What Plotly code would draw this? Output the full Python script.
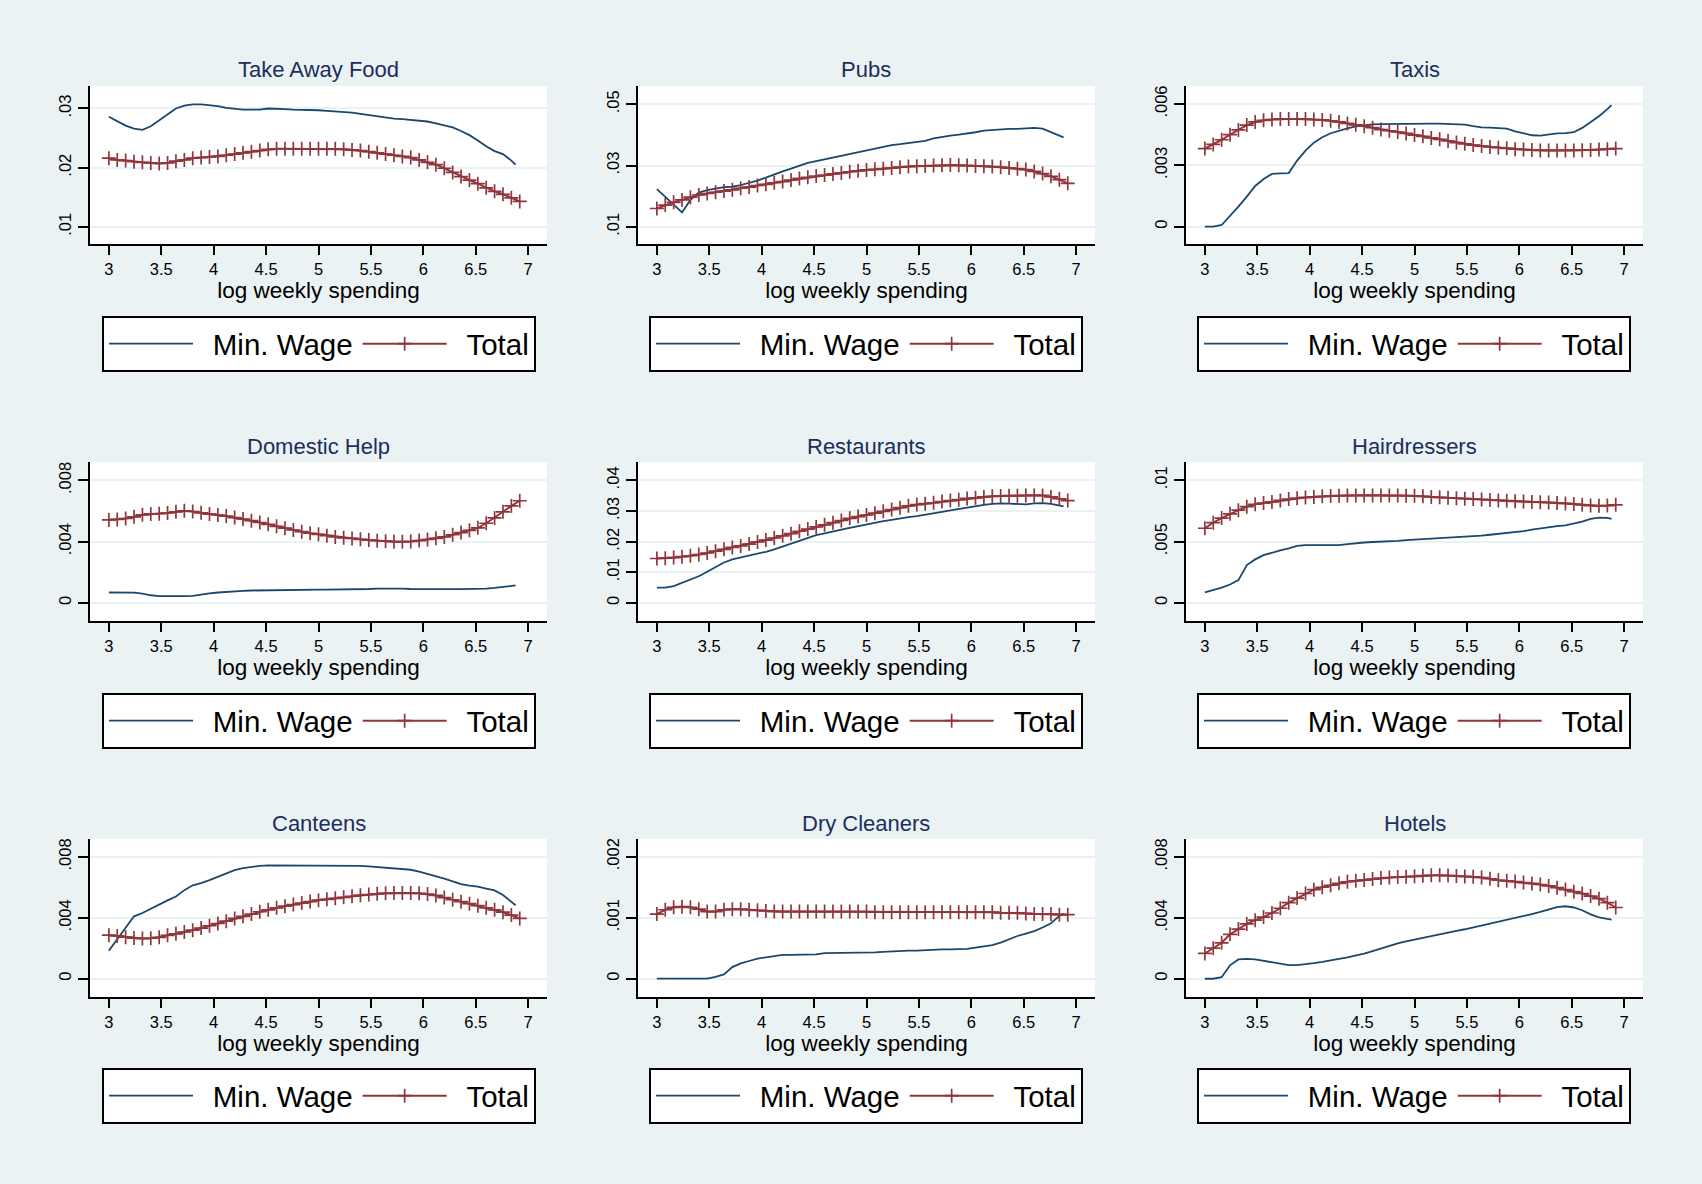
import plotly.graph_objects as go

# ---------------- data ----------------
X_TOTAL = [3.00, 3.08, 3.16, 3.24, 3.32, 3.40, 3.48, 3.56, 3.64, 3.72,
           3.80, 3.88, 3.96, 4.04, 4.12, 4.20, 4.28, 4.36, 4.44, 4.52,
           4.60, 4.68, 4.76, 4.84, 4.92, 5.00, 5.08, 5.16, 5.24, 5.32,
           5.40, 5.48, 5.56, 5.64, 5.72, 5.80, 5.88, 5.96, 6.04, 6.12,
           6.20, 6.28, 6.36, 6.44, 6.52, 6.60, 6.68, 6.76, 6.84, 6.92]
X_MINWAGE = [3.00, 3.08, 3.16, 3.24, 3.32, 3.40, 3.48, 3.56, 3.64, 3.72,
             3.80, 3.88, 3.96, 4.04, 4.12, 4.20, 4.28, 4.36, 4.44, 4.52,
             4.60, 4.68, 4.76, 4.84, 4.92, 5.00, 5.08, 5.16, 5.24, 5.32,
             5.40, 5.48, 5.56, 5.64, 5.72, 5.80, 5.88, 5.96, 6.04, 6.12,
             6.20, 6.28, 6.36, 6.44, 6.52, 6.60, 6.68, 6.76, 6.84, 6.88]

CATEGORIES = ["Take Away Food", "Pubs", "Taxis",
              "Domestic Help", "Restaurants", "Hairdressers",
              "Canteens", "Dry Cleaners", "Hotels"]
SERIES_NAMES = ["Min. Wage", "Total"]
X_TICKS = [3, 3.5, 4, 4.5, 5, 5.5, 6, 6.5, 7]
X_TICK_LABELS = ["3", "3.5", "4", "4.5", "5", "5.5", "6", "6.5", "7"]
X_TITLE = "log weekly spending"

MW_TAKE_AWAY = [.0286, .0279, .0271, .0266, .0264, .0270, .0280, .0291, .0300, .0305,
                .0307, .0307, .0306, .0304, .0301, .0299, .0298, .0298, .0298, .0300,
                .0300, .0299, .0298, .0298, .0297, .0297, .0296, .0295, .0295, .0293,
                .0291, .0289, .0287, .0284, .0283, .0282, .0281, .0279, .0278, .0275,
                .0272, .0268, .0262, .0255, .0246, .0236, .0228, .0223, .0212, .0205]
TOT_TAKE_AWAY = [.0216, .0213, .0212, .0210, .0209, .0208, .0207, .0208, .0211, .0213,
                 .0216, .0217, .0218, .0219, .0221, .0223, .0225, .0227, .0229, .0231,
                 .0232, .0232, .0232, .0232, .0232, .0232, .0232, .0232, .0231, .0230,
                 .0229, .0227, .0225, .0223, .0221, .0219, .0217, .0213, .0209, .0205,
                 .0199, .0192, .0185, .0179, .0173, .0166, .0160, .0155, .0149, .0143]

MW_PUBS = [.0223, .0198, .0172, .0147, .0188, .0212, .0220, .0226, .0230, .0231,
           .0236, .0244, .0251, .0261, .0272, .0281, .0290, .0299, .0309, .0315,
           .0321, .0327, .0333, .0339, .0345, .0351, .0356, .0362, .0367, .0370,
           .0373, .0377, .0381, .0389, .0394, .0398, .0401, .0404, .0409, .0414,
           .0416, .0419, .0420, .0420, .0421, .0423, .0421, .0410, .0397, .0392]
TOT_PUBS = [.0160, .0171, .0180, .0188, .0197, .0204, .0209, .0213, .0217, .0221,
            .0226, .0230, .0235, .0239, .0244, .0248, .0253, .0258, .0262, .0266,
            .0269, .0273, .0276, .0280, .0283, .0286, .0288, .0290, .0292, .0295,
            .0297, .0298, .0299, .0300, .0301, .0302, .0301, .0300, .0299, .0298,
            .0297, .0295, .0292, .0290, .0287, .0281, .0274, .0265, .0254, .0242]

MW_TAXIS = [0, 0, .00008, .00052, .00098, .00147, .00199, .00233, .00258, .00261,
            .00262, .00323, .00372, .00411, .00437, .00457, .00470, .00481, .00490, .00496,
            .00500, .00501, .00502, .00503, .00504, .00504, .00504, .00504, .00504, .00503,
            .00502, .00499, .00492, .00486, .00484, .00483, .00479, .00466, .00456, .00447,
            .00445, .00451, .00456, .00457, .00462, .00483, .00513, .00540, .00575, .00594]
TOT_TAXIS = [.00382, .00402, .00425, .00450, .00473, .00497, .00512, .00520, .00524, .00527,
             .00527, .00527, .00526, .00524, .00522, .00518, .00512, .00505, .00498, .00491,
             .00484, .00475, .00469, .00463, .00456, .00448, .00442, .00434, .00427, .00419,
             .00411, .00405, .00399, .00394, .00390, .00386, .00383, .00379, .00377, .00375,
             .00373, .00373, .00373, .00373, .00373, .00374, .00375, .00377, .00379, .00382]

MW_DOMESTIC = [.00068, .00068, .00068, .00067, .00060, .00050, .00045, .00044, .00044, .00044,
               .00046, .00055, .00062, .00068, .00073, .00077, .00079, .00081, .00082, .00084,
               .00086, .00087, .00087, .00087, .00087, .00087, .00087, .00087, .00087, .00087,
               .00088, .00091, .00093, .00094, .00094, .00093, .00091, .00090, .00090, .00090,
               .00090, .00090, .00090, .00090, .00091, .00094, .00098, .00105, .00111, .00114]
TOT_DOMESTIC = [.00542, .00545, .00551, .00562, .00575, .00581, .00582, .00587, .00595, .00601,
                .00597, .00588, .00580, .00574, .00567, .00557, .00548, .00537, .00525, .00513,
                .00500, .00488, .00476, .00465, .00455, .00448, .00439, .00431, .00425, .00421,
                .00415, .00410, .00406, .00403, .00400, .00400, .00401, .00407, .00414, .00422,
                .00431, .00445, .00459, .00474, .00490, .00520, .00555, .00595, .00633, .00667]

MW_RESTAURANTS = [.0050, .0050, .0055, .0065, .0076, .0087, .0102, .0118, .0132, .0142,
                  .0148, .0155, .0161, .0167, .0175, .0184, .0193, .0201, .0211, .0221,
                  .0227, .0234, .0239, .0245, .0251, .0256, .0261, .0267, .0271, .0276,
                  .0280, .0283, .0287, .0292, .0297, .0302, .0307, .0312, .0317, .0320,
                  .0323, .0325, .0324, .0322, .0322, .0325, .0326, .0323, .0318, .0315]
TOT_RESTAURANTS = [.0145, .0146, .0148, .0151, .0154, .0158, .0163, .0169, .0175, .0181,
                   .0186, .0192, .0199, .0205, .0212, .0219, .0226, .0234, .0241, .0248,
                   .0255, .0262, .0269, .0276, .0282, .0287, .0293, .0299, .0305, .0311,
                   .0317, .0321, .0324, .0327, .0331, .0334, .0337, .0341, .0343, .0346,
                   .0348, .0349, .0350, .0350, .0351, .0351, .0351, .0346, .0340, .0334]

MW_HAIRDRESSERS = [.00085, .00104, .00125, .00150, .00186, .00309, .00355, .00390, .00412, .00428,
                   .00445, .00465, .00472, .00472, .00467, .00469, .00472, .00480, .00488, .00493,
                   .00497, .00499, .00502, .00506, .00512, .00518, .00522, .00525, .00528, .00532,
                   .00534, .00535, .00541, .00549, .00556, .00562, .00568, .00574, .00585, .00598,
                   .00608, .00620, .00626, .00633, .00648, .00663, .00685, .00696, .00694, .00686]
TOT_HAIRDRESSERS = [.00609, .00655, .00692, .00727, .00757, .00785, .00805, .00815, .00824, .00836,
                    .00847, .00855, .00861, .00865, .00870, .00873, .00875, .00876, .00877, .00877,
                    .00877, .00877, .00876, .00876, .00875, .00874, .00870, .00865, .00862, .00858,
                    .00854, .00851, .00848, .00844, .00840, .00836, .00833, .00829, .00827, .00824,
                    .00822, .00820, .00816, .00812, .00807, .00800, .00794, .00792, .00794, .00800]

MW_CANTEENS = [.00184, .00258, .00330, .00410, .00432, .00461, .00491, .00515, .00540, .00582,
               .00614, .00628, .00648, .00668, .00691, .00713, .00726, .00736, .00742, .00745,
               .00745, .00745, .00745, .00745, .00745, .00745, .00745, .00745, .00745, .00745,
               .00741, .00738, .00734, .00730, .00727, .00724, .00716, .00704, .00690, .00676,
               .00658, .00640, .00622, .00611, .00605, .00592, .00580, .00550, .00505, .00483]
TOT_CANTEENS = [.00286, .00281, .00273, .00267, .00264, .00266, .00272, .00285, .00295, .00307,
                .00319, .00333, .00348, .00363, .00378, .00396, .00410, .00425, .00440, .00453,
                .00466, .00477, .00487, .00497, .00507, .00516, .00522, .00528, .00535, .00542,
                .00549, .00553, .00558, .00561, .00563, .00564, .00563, .00561, .00556, .00547,
                .00533, .00519, .00506, .00493, .00480, .00466, .00453, .00437, .00418, .00396]

MW_DRY_CLEANERS = [0, 0, 0, 0, 0, 0, 0, .00003, .00007, .00019,
                   .00025, .00029, .00033, .00035, .00037, .00039, .00039, .00039, .00039, .00040,
                   .00042, .00042, .00043, .00043, .00043, .00043, .00043, .00044, .00045, .00045,
                   .00046, .00046, .00047, .00048, .00048, .00048, .00048, .00049, .00051, .00053,
                   .00055, .00059, .00065, .00070, .00074, .00078, .00084, .00091, .00103, .00107]
TOT_DRY_CLEANERS = [.00106, .00113, .00117, .00118, .00117, .00114, .00110, .00110, .00113, .00114,
                    .00114, .00113, .00112, .00111, .00110, .00110, .00110, .00110, .00110, .00110,
                    .00110, .00110, .00110, .00110, .00110, .00110, .00109, .00109, .00109, .00109,
                    .00109, .00109, .00109, .00109, .00109, .00109, .00109, .00109, .00109, .00109,
                    .00109, .00108, .00108, .00108, .00107, .00106, .00106, .00106, .00105, .00105]

MW_HOTELS = [0, 0, .00010, .00088, .00127, .00131, .00127, .00117, .00106, .00096,
             .00090, .00090, .00095, .00103, .00111, .00118, .00130, .00140, .00151, .00165,
             .00181, .00199, .00216, .00233, .00246, .00258, .00269, .00280, .00292, .00305,
             .00315, .00325, .00337, .00349, .00361, .00374, .00386, .00400, .00413, .00425,
             .00439, .00457, .00471, .00476, .00468, .00450, .00423, .00403, .00393, .00389]
TOT_HOTELS = [.00166, .00201, .00236, .00292, .00326, .00360, .00385, .00405, .00432, .00463,
              .00500, .00530, .00560, .00585, .00601, .00614, .00627, .00637, .00643, .00648,
              .00655, .00661, .00665, .00668, .00670, .00673, .00677, .00680, .00680, .00678,
              .00675, .00672, .00670, .00665, .00657, .00647, .00643, .00638, .00632, .00626,
              .00619, .00610, .00598, .00586, .00572, .00560, .00543, .00526, .00500, .00468]

MIN_WAGE = [MW_TAKE_AWAY, MW_PUBS, MW_TAXIS, MW_DOMESTIC, MW_RESTAURANTS,
            MW_HAIRDRESSERS, MW_CANTEENS, MW_DRY_CLEANERS, MW_HOTELS]
TOTAL = [TOT_TAKE_AWAY, TOT_PUBS, TOT_TAXIS, TOT_DOMESTIC, TOT_RESTAURANTS,
         TOT_HAIRDRESSERS, TOT_CANTEENS, TOT_DRY_CLEANERS, TOT_HOTELS]

Y_TICKS = [[0.01, 0.02, 0.03], [0.01, 0.03, 0.05], [0, 0.003, 0.006],
           [0, 0.004, 0.008], [0, 0.01, 0.02, 0.03, 0.04], [0, 0.005, 0.01],
           [0, 0.004, 0.008], [0, 0.001, 0.002], [0, 0.004, 0.008]]
Y_TICK_LABELS = [[".01", ".02", ".03"], [".01", ".03", ".05"], ["0", ".003", ".006"],
                 ["0", ".004", ".008"], ["0", ".01", ".02", ".03", ".04"], ["0", ".005", ".01"],
                 ["0", ".004", ".008"], ["0", ".001", ".002"], ["0", ".004", ".008"]]

# ---------------- layout / style ----------------
W, H = 1702, 1184
Y_RANGES = [[0.0071, 0.0338], [0.0044, 0.0560], [-0.00085, 0.00688],
            [-0.00118, 0.0092], [-0.0059, 0.0460], [-0.00148, 0.0115],
            [-0.0012, 0.00918], [-0.0003, 0.00229], [-0.0012, 0.00918]]
X_RANGE = [2.82, 7.18]
COL_PX = [(90, 547), (638, 1095), (1186, 1643)]
ROW_PX = [(86, 244), (462, 621), (839, 997)]
TITLE_Y_PX = [70, 446, 823.5]
LEGEND_TOP_PX = [316, 693, 1068]
LEGEND_X_PX = [319, 866, 1414]
LEGEND_TEXT_PAD = "\u2002"   # gap between legend key and its label

FONT = "Liberation Sans, Arial, Helvetica, sans-serif"
BLUE = "#1a476f"
RED = "#90353b"
BG = "#eaf2f3"
TITLE_COLOR = "#1c2e5c"

fig = go.Figure()
annotations = []
layout_axes = {}

for i, cat in enumerate(CATEGORIES):
    r, c = divmod(i, 3)
    n = "" if i == 0 else str(i + 1)
    xname, yname = "x" + n, "y" + n
    legname = "legend" + n

    fig.add_trace(go.Scatter(
        x=X_MINWAGE, y=MIN_WAGE[i], mode="lines",
        name=LEGEND_TEXT_PAD + SERIES_NAMES[0],
        line=dict(color=BLUE, width=1.8), xaxis=xname, yaxis=yname,
        legend=legname, hoverinfo="skip"))
    fig.add_trace(go.Scatter(
        x=X_TOTAL, y=TOTAL[i], mode="lines+markers",
        name=LEGEND_TEXT_PAD + SERIES_NAMES[1],
        line=dict(color=RED, width=2),
        marker=dict(symbol="cross-thin", size=10, color=RED,
                    line=dict(color=RED, width=1.7)),
        xaxis=xname, yaxis=yname, legend=legname, hoverinfo="skip"))

    x0, x1 = COL_PX[c]
    y0, y1 = ROW_PX[r]
    layout_axes["xaxis" + n] = dict(
        domain=[x0 / W, x1 / W], anchor=yname, range=X_RANGE,
        tickmode="array", tickvals=X_TICKS, ticktext=X_TICK_LABELS,
        ticks="outside", ticklen=9, tickwidth=1.5, tickcolor="black",
        showline=True, linecolor="black", linewidth=2,
        showgrid=False, zeroline=False, automargin=False,
        tickfont=dict(family=FONT, size=16.5, color="black"),
        title=dict(text=X_TITLE, standoff=2,
                   font=dict(family=FONT, size=22.5, color="black")))
    layout_axes["yaxis" + n] = dict(
        domain=[1 - y1 / H, 1 - y0 / H], anchor=xname, range=Y_RANGES[i],
        tickmode="array", tickvals=Y_TICKS[i], ticktext=Y_TICK_LABELS[i],
        tickangle=-90, ticks="outside", ticklen=10, tickwidth=1.5,
        tickcolor="black", showline=True, linecolor="black", linewidth=2,
        showgrid=True, gridcolor=BG, gridwidth=1.5, zeroline=False,
        automargin=False,
        tickfont=dict(family=FONT, size=16.5, color="black"))
    layout_axes[legname] = dict(
        orientation="h", x=LEGEND_X_PX[c] / W, xanchor="center",
        y=1 - LEGEND_TOP_PX[r] / H, yanchor="top",
        bgcolor="white", bordercolor="black", borderwidth=2,
        font=dict(family=FONT, size=29.5, color="black"),
        itemwidth=84, traceorder="normal")

    annotations.append(dict(
        text=cat, x=(x0 + x1) / 2 / W, y=1 - TITLE_Y_PX[r] / H,
        xref="paper", yref="paper", xanchor="center", yanchor="middle",
        showarrow=False, font=dict(family=FONT, size=22, color=TITLE_COLOR)))

fig.update_layout(
    width=W, height=H, margin=dict(l=0, r=0, t=0, b=0, pad=0),
    paper_bgcolor=BG, plot_bgcolor="white",
    font=dict(family=FONT, color="black"),
    showlegend=True, annotations=annotations, **layout_axes)

fig.write_html("out.html", config={"displayModeBar": False},
               post_script="document.body.style.margin='0';document.body.style.overflow='hidden';")
